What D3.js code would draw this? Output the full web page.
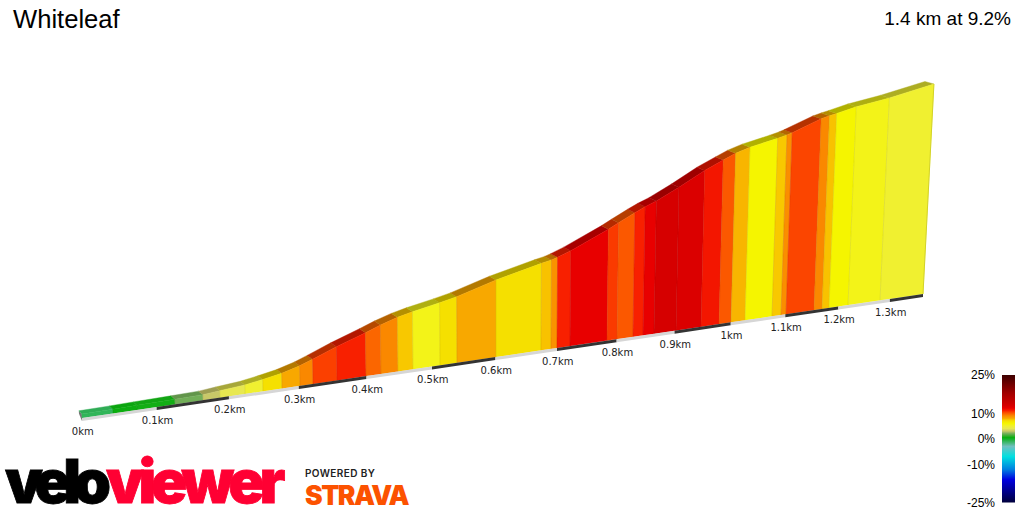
<!DOCTYPE html>
<html>
<head>
<meta charset="utf-8">
<style>
html, body { margin: 0; padding: 0; background: #fff; }
svg { display: block; }
</style>
<script src="https://cdn.jsdelivr.net/npm/d3@7"></script>
</head>
<body>
<script>
var titleText = "Whiteleaf";
var summaryText = "1.4 km at 9.2%";

// distance (km) at the edge of each gradient block
var distKm = [0, 0.0411, 0.0733, 0.125, 0.1637, 0.1874, 0.2227, 0.2483, 0.2756, 0.3017,
  0.3207, 0.356, 0.3993, 0.4219, 0.4477, 0.4707, 0.5125, 0.539, 0.6009, 0.6737,
  0.6901, 0.7, 0.7216, 0.7836, 0.8006, 0.8279, 0.8452, 0.8642, 0.9026, 0.9467,
  0.9789, 1.0005, 1.0259, 1.0753, 1.092, 1.1013, 1.1537, 1.1689, 1.1822, 1.2185,
  1.2806, 1.3658];

// height gained (m) at the same edges
var elevM = [0, 0.11, 0.32, 0.55, 0.81, 1.59, 2.63, 4.09, 5.87, 8.39,
  10.87, 15.64, 20.87, 23.86, 26.72, 28.64, 31.52, 33.55, 39.87, 45.84,
  47.01, 48.07, 50.84, 60.23, 63.24, 67.84, 70.56, 73.09, 79.43, 87.53,
  92.38, 95.57, 98.25, 101.89, 103.31, 104.33, 110.9, 112.2, 113.2, 116.13,
  119.63, 125.7];

// gradient (%) of each block, one fewer than the edges
var gradPct = [-1, 0.5, 0.6, 2, 3, 4, 5, 7, 8, 9,
  10.5, 11, 9.7, 9, 7.5, 5.5, 7, 8, 7, 7.6,
  8.7, 11, 12, 10.6, 10, 11, 12, 13, 12.7, 11.3,
  10, 7.8, 6, 7.5, 8.8, 10.4, 9, 7.6, 6, 5.5, 5];

var kmTicks = [0, 0.1, 0.2, 0.3, 0.4, 0.5, 0.6, 0.7, 0.8, 0.9, 1, 1.1, 1.2, 1.3];
var legendTicks = [25, 10, 0, -10, -25];

var gradStops = [-25, -16, -12, -7, -3, 0, 0.5, 2, 3, 4, 5, 6, 7, 7.5, 8, 9, 10, 10.5, 11, 12, 13, 18, 25];
var gradColors = ["#00003c", "#0000e0", "#0080e0", "#00e0e0", "#70c0c0", "#12b025", "#0cae10", "#72ae58",
  "#c8c868", "#e8e850", "#f0f030", "#f5f500", "#f5e000", "#f8c800", "#f8a800", "#fa8800",
  "#fb5800", "#fb4000", "#f82000", "#e80000", "#d60000", "#a00000", "#3c0000"];

var width = 1024;
var height = 512;

var color = d3.scaleLinear().domain(gradStops).range(gradColors);
var shadeAmount = d3.scaleLinear().domain([0.6, 4]).range([0.95, 0.72]).clamp(true);

// the road runs away from the viewer, so distance is squeezed towards the far end
var squeeze = function(d) { return d / (1 + 0.1715 * d); };
var lastKm = distKm[distKm.length - 1];
var x = d3.scaleLinear().domain([0, squeeze(lastKm)]).range([82, 923]);
var y = d3.scaleLinear().domain([0, squeeze(lastKm)]).range([418, 294]);
var rise = d3.scaleLinear().domain([0, 125.7]).range([4, 259.2]);
var lean = d3.scaleLinear().domain([0.6, lastKm]).range([0, 0.052]);
var backX = d3.scaleLinear().domain([0, 0.4, lastKm]).range([-3, -6, -9]);
var backY = d3.scaleLinear().domain([0, 0.4, lastKm]).range([-3.2, -4, -2.5]);

function basePt(d) {
  return [x(squeeze(d)), y(squeeze(d))];
}
function wallPt(d, e) {
  var b = basePt(d);
  var h = rise(e) / (1 + 0.1715 * d);
  return [b[0] + lean(d) * h, b[1] - h];
}
function backPt(p, d) {
  return [p[0] + backX(d), p[1] + backY(d)];
}
function shade(g) {
  var c = d3.rgb(color(g));
  var k = shadeAmount(g);
  return d3.rgb(c.r * k, c.g * k, c.b * k);
}

var svg = d3.select("body").append("svg")
  .attr("width", width)
  .attr("height", height)
  .attr("viewBox", "0 0 1024 512");

svg.append("rect").attr("width", width).attr("height", height).attr("fill", "#fff");

var blocks = gradPct.map(function(g, i) {
  return { g: g, d0: distKm[i], d1: distKm[i + 1], e0: elevM[i], e1: elevM[i + 1] };
});

// end of the block at the start
var startTop = wallPt(0, 0), startBase = basePt(0);
svg.append("polygon")
  .attr("points", [backPt(startTop, 0), startTop, startBase, [startBase[0], startBase[1] + 3], backPt([startBase[0], startBase[1] - 1], 0)].join(" "))
  .attr("fill", "#777");

// road surface
svg.append("g").selectAll("polygon")
  .data(blocks)
  .enter()
  .append("polygon")
  .attr("points", function(b) {
    var a = wallPt(b.d0, b.e0), c = wallPt(b.d1, b.e1);
    return [a, c, backPt(c, b.d1), backPt(a, b.d0)].join(" ");
  })
  .attr("fill", function(b) { return shade(b.g); })
  .attr("stroke", function(b) { return shade(b.g); })
  .attr("stroke-width", 0.4);

// side wall
svg.append("g").selectAll("polygon")
  .data(blocks)
  .enter()
  .append("polygon")
  .attr("points", function(b) {
    return [basePt(b.d0), wallPt(b.d0, b.e0), wallPt(b.d1, b.e1), basePt(b.d1)].join(" ");
  })
  .attr("fill", function(b) { return color(b.g); })
  .attr("stroke", function(b) { return color(b.g); })
  .attr("stroke-width", 0.4);

// faint lines between the blocks
svg.append("g").selectAll("line")
  .data(blocks.slice(1))
  .enter()
  .append("line")
  .attr("x1", function(b) { return basePt(b.d0)[0]; })
  .attr("y1", function(b) { return basePt(b.d0)[1]; })
  .attr("x2", function(b) { return wallPt(b.d0, b.e0)[0]; })
  .attr("y2", function(b) { return wallPt(b.d0, b.e0)[1]; })
  .attr("stroke", "#000")
  .attr("stroke-opacity", 0.07)
  .attr("stroke-width", 1);

// far edge of the wall
svg.append("line")
  .attr("x1", basePt(lastKm)[0])
  .attr("y1", basePt(lastKm)[1])
  .attr("x2", wallPt(lastKm, 125.7)[0])
  .attr("y2", wallPt(lastKm, 125.7)[1])
  .attr("stroke", "#d2d228")
  .attr("stroke-width", 1);

// distance bands under the wall, light and dark in turn
svg.append("g").selectAll("polygon")
  .data(kmTicks)
  .enter()
  .append("polygon")
  .attr("points", function(d, i) {
    var a = basePt(d);
    var b = basePt(i < kmTicks.length - 1 ? kmTicks[i + 1] : lastKm);
    return [a, b, [b[0], b[1] + 3], [a[0], a[1] + 3]].join(" ");
  })
  .attr("fill", function(d, i) { return i % 2 ? "#333" : "#d6d6d6"; });

svg.append("g").selectAll("text")
  .data(kmTicks)
  .enter()
  .append("text")
  .attr("x", function(d) { return basePt(d)[0] + 0.8; })
  .attr("y", function(d) { return basePt(d)[1] + 17; })
  .attr("text-anchor", "middle")
  .attr("font-family", "DejaVu Sans")
  .attr("font-size", 10)
  .attr("fill", "#222")
  .text(function(d) { return d + "km"; });

// header
svg.append("text")
  .attr("x", 13)
  .attr("y", 28)
  .attr("font-family", "Liberation Sans")
  .attr("font-size", 25.6)
  .attr("fill", "#000")
  .text(titleText);

svg.append("text")
  .attr("x", 1011)
  .attr("y", 25)
  .attr("text-anchor", "end")
  .attr("font-family", "Liberation Sans")
  .attr("font-size", 19)
  .attr("fill", "#000")
  .text(summaryText);

// gradient legend
var legendY = d3.scaleLinear().domain([-25, 25]).range([502.5, 375]);
var defs = svg.append("defs");
var ramp = defs.append("linearGradient")
  .attr("id", "ramp")
  .attr("x1", 0).attr("y1", 1).attr("x2", 0).attr("y2", 0);
ramp.selectAll("stop")
  .data(gradStops)
  .enter()
  .append("stop")
  .attr("offset", function(d) { return (d + 25) / 50; })
  .attr("stop-color", function(d) { return color(d); });

svg.append("rect")
  .attr("x", 1002)
  .attr("y", legendY(25))
  .attr("width", 13)
  .attr("height", legendY(-25) - legendY(25))
  .attr("fill", "url(#ramp)");

var legendAxis = d3.axisLeft(legendY)
  .tickValues(legendTicks)
  .tickSize(0)
  .tickPadding(0)
  .tickFormat(function(d) { return d + "%"; });

var legendG = svg.append("g")
  .attr("transform", "translate(995,0)")
  .call(legendAxis);
legendG.select(".domain").remove();
legendG.selectAll("text")
  .attr("font-family", "Liberation Sans")
  .attr("font-size", 12)
  .attr("fill", "#000");

// logos
svg.append("text")
  .attr("x", 5).attr("y", 503)
  .attr("letter-spacing", -7.5)
  .attr("font-family", "Inter").attr("font-weight", 900).attr("font-size", 60)
  .attr("fill", "#000").attr("stroke", "#000").attr("stroke-width", 0.8)
  .text("velo");
svg.append("text")
  .attr("x", 106).attr("y", 503)
  .attr("letter-spacing", -5.3)
  .attr("font-family", "Inter").attr("font-weight", 900).attr("font-size", 60)
  .attr("fill", "#ff0033").attr("stroke", "#ff0033").attr("stroke-width", 0.8)
  .text("viewer");
svg.append("text")
  .attr("x", 305).attr("y", 477)
  .attr("letter-spacing", 0.4)
  .attr("font-family", "Inter").attr("font-weight", 600).attr("font-size", 10)
  .attr("fill", "#222")
  .text("POWERED BY");
svg.append("text")
  .attr("x", 305).attr("y", 504.5)
  .attr("letter-spacing", -1.5)
  .attr("font-family", "Inter").attr("font-weight", 900).attr("font-size", 26.5)
  .attr("fill", "#fc5200")
  .text("STRAVA");
</script>
</body>
</html>
